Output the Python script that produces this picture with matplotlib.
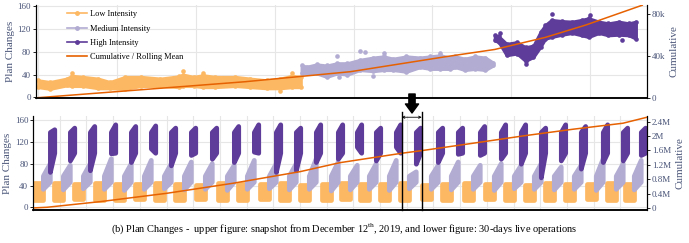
import matplotlib
matplotlib.use('Agg')
import matplotlib.pyplot as plt
import matplotlib.transforms as mtransforms
from matplotlib.lines import Line2D
from matplotlib.ticker import FuncFormatter, MultipleLocator

plt.rcParams['font.family'] = ['Liberation Serif', 'DejaVu Serif']
plt.rcParams['mathtext.fontset'] = 'custom'
plt.rcParams['mathtext.rm'] = 'Liberation Serif'

C_LOW = '#fdb863'
C_MED = '#b2abd2'
C_HIGH = '#5e3c99'
C_CUM = '#e66101'
C_TXT = '#4a5578'
C_GRID = '#e6e6e6'

# ---- upper: snapshot of one day (x = sample index) ----
low_x = [0, 15, 36, 43, 57, 76, 91, 110, 131, 155, 178, 184, 197, 209, 224, 250, 269, 290, 307, 322, 333]
low_top = [30, 27, 33, 38, 36, 33, 27, 36, 36, 33, 37, 40, 36, 39, 36, 36, 33, 30, 33, 38, 36]
low_bot = [18, 15, 21, 20, 20, 16, 16, 15, 20, 20, 18, 20, 20, 18, 18, 20, 18, 16, 16, 18, 18]
low_out_x = [43, 184, 209, 307, 322]
low_out_y = [43, 46, 43, 12, 43]

med_x = [334, 341, 353, 366, 379, 392, 408, 425, 438, 450, 467, 484, 497, 510, 522, 529, 541, 554, 567, 577]
med_top = [56, 54, 58, 56, 60, 60, 66, 70, 72, 68, 72, 70, 72, 74, 70, 72, 68, 72, 70, 61]
med_bot = [42, 42, 42, 36, 42, 40, 48, 46, 48, 48, 45, 53, 50, 50, 50, 53, 48, 50, 48, 56]
med_out_x = [379, 408, 414, 438, 510, 381, 425]
med_out_y = [72, 81, 79, 78, 78, 36, 38]

high_x = [579, 584, 594, 607, 618, 628, 637, 643, 651, 664, 677, 689, 698, 711, 723, 736, 749, 758]
high_top = [109, 107, 94, 97, 88, 91, 115, 127, 136, 134, 133, 136, 139, 133, 130, 133, 130, 133]
high_bot = [100, 97, 74, 77, 64, 71, 89, 103, 106, 110, 113, 109, 106, 113, 109, 110, 109, 103]
high_out_x = [651, 700, 618, 585, 740]
high_out_y = [147, 145, 59, 113, 100]

cum_x = [0, 262, 332, 396, 516, 579, 643, 694, 766]
cum_y = [0, 15200, 20200, 24800, 39000, 46000, 57500, 69200, 88200]

# ---- lower: 30 days of live operations ----
day_center = [712, 1461, 2210, 2997, 3746, 4495, 5244, 5994, 6780, 7604, 8354, 9178, 9927, 10676, 11500,
              12212, 12924, 13673, 14422, 15246, 15995, 16820, 17606, 18355, 19105, 19854, 20603, 21427, 22176, 22851]
hi_top = [143, 146, 149, 152, 149, 150, 146, 146, 146, 149, 152, 152, 146, 152, 152,
          152, 146, 152, 146, 146, 146, 149, 152, 152, 146, 152, 149, 152, 146, 146]
hi_bot = [65, 86, 68, 99, 83, 108, 77, 96, 89, 83, 102, 65, 68, 83, 89,
          111, 86, 111, 80, 83, 98, 96, 89, 80, 55, 86, 71, 83, 86, 96]
md_top = [81, 78, 81, 90, 81, 87, 81, 84, 81, 78, 87, 81, 81, 90, 84,
          78, 81, 87, 66, 78, 84, 78, 81, 78, 81, 75, 78, 90, 81, 87]
md_bot = [34, 33, 35, 34, 32, 34, 35, 33, 34, 32, 34, 35, 33, 34, 31,
          33, 34, 32, 35, 34, 33, 34, 32, 35, 34, 33, 34, 32, 34, 33]
lo_top = [44, 44, 42, 44, 42, 42, 44, 43, 41, 44, 43, 42, 44, 41, 43,
          44, 42, 43, 44, 41, 43, 44, 42, 43, 41, 44, 43, 42, 44, 43]
lo_bot = [14, 14, 15, 13, 14, 15, 14, 13, 15, 14, 13, 15, 14, 14, 13,
          15, 14, 13, 14, 15, 13, 14, 15, 13, 14, 14, 13, 15, 14, 13]
# typical corners of the medium / high clusters inside a day
md_start_top = 58
md_end_bot = 47
hi_start_top = 138
hi_end_bot = 100
# phase boundaries relative to the high-cluster centre
lo_span = [-672, -335]
md_span = [-345, -85]
hi_span = [-82, 82]

cum2_x = [0, 524, 2510, 5020, 7492, 10002, 11500, 13811, 14561, 16482, 18355, 20228, 22101, 23000]
cum2_y = [0, 19e3, 175e3, 408e3, 686e3, 1008e3, 1258e3, 1519e3, 1592e3, 1797e3, 2000e3, 2186e3,
          2353e3, 2519e3]

snap_window = [13811, 14561]


def fmt_k(v, pos):
    return '0' if v == 0 else f'{v / 1000:g}k'


def fmt_m(v, pos):
    return '0' if v == 0 else f'{v / 1e6:g}M'


def style(ax, axr, xstep):
    ax.set_axisbelow(True)
    ax.grid(True, color=C_GRID, lw=0.8)
    ax.xaxis.set_major_locator(MultipleLocator(xstep))
    ax.tick_params(axis='x', length=0, labelbottom=False)
    ax.tick_params(axis='y', length=2.5, width=0.6, labelsize=6.5, labelcolor=C_TXT, pad=1)
    axr.tick_params(axis='y', length=2.5, width=0.6, labelsize=6.5, labelcolor=C_TXT, pad=1)
    for a in (ax, axr):
        a.spines['top'].set_visible(False)
        a.spines['bottom'].set_linewidth(1.1)
        a.spines['left'].set_linewidth(0.8)
        a.spines['right'].set_linewidth(0.8)
    ax.set_ylabel('Plan Changes', fontsize=8, color=C_TXT, labelpad=2)
    axr.set_ylabel('Cumulative', fontsize=8, color=C_TXT, labelpad=3)


def band(ax, x, lo, hi, color, out_x, out_y):
    ax.fill_between(x, lo, hi, color=color, lw=2.2, edgecolor=color, joinstyle='round')
    ax.scatter(x + x, lo + hi, s=11, color=color, lw=0)
    ax.scatter(out_x, out_y, s=11, color=color, lw=0)


def blob(ax, x0, x1, b0, b1, t0, t1, color):
    ax.fill_between([x0, x1], [b0, b1], [t0, t1], color=color, lw=3.4, edgecolor=color,
                    joinstyle='round')


fig = plt.figure(figsize=(6.89, 2.43), dpi=100)

# upper chart
ax1 = fig.add_axes([0.052, 0.598, 0.887, 0.381])
ax1r = ax1.twinx()
band(ax1, low_x, low_bot, low_top, C_LOW, low_out_x, low_out_y)
band(ax1, med_x, med_bot, med_top, C_MED, med_out_x, med_out_y)
band(ax1, high_x, high_bot, high_top, C_HIGH, high_out_x, high_out_y)
ax1r.plot(cum_x, cum_y, color=C_CUM, lw=1.1)
ax1.set_xlim(-3, 772)
ax1.set_ylim(-0.5, 162)
ax1.set_yticks([0, 40, 80, 120, 160])
ax1r.set_ylim(0, 88300)
ax1r.set_yticks([0, 40000, 80000])
ax1r.yaxis.set_major_formatter(FuncFormatter(fmt_k))
style(ax1, ax1r, 100)

handles = [Line2D([], [], color=C_LOW, marker='o', markersize=2.5, lw=1.2),
           Line2D([], [], color=C_MED, marker='o', markersize=2.5, lw=1.2),
           Line2D([], [], color=C_HIGH, marker='o', markersize=2.5, lw=1.2),
           Line2D([], [], color=C_CUM, lw=1.2)]
labels = ['Low Intensity', 'Medium Intensity', 'High Intensity', 'Cumulative / Rolling Mean']
ax1.legend(handles, labels, loc='upper left', bbox_to_anchor=(0.045, 0.98), frameon=False,
           fontsize=6, handlelength=2.4, handletextpad=0.4, labelspacing=0.75, borderaxespad=0)

# lower chart
ax2 = fig.add_axes([0.048, 0.136, 0.891, 0.387])
ax2r = ax2.twinx()
for d, c in enumerate(day_center):
    blob(ax2, c + lo_span[0], c + lo_span[1], lo_bot[d], lo_bot[d], lo_top[d], lo_top[d], C_LOW)
for d, c in enumerate(day_center):
    blob(ax2, c + md_span[0], c + md_span[1], md_bot[d], md_end_bot, md_start_top, md_top[d], C_MED)
for d, c in enumerate(day_center):
    blob(ax2, c + hi_span[0], c + hi_span[1], hi_bot[d], hi_end_bot, hi_start_top, hi_top[d], C_HIGH)
ax2r.plot(cum2_x, cum2_y, color=C_CUM, lw=1.1)
ax2.set_xlim(0, 23000)
ax2.set_ylim(-4.6, 167.4)
ax2.set_yticks([0, 40, 80, 120, 160])
ax2r.set_ylim(-55600, 2.556e6)
ax2r.set_yticks([0, 4e5, 8e5, 1.2e6, 1.6e6, 2e6, 2.4e6])
ax2r.yaxis.set_major_formatter(FuncFormatter(fmt_m))
style(ax2, ax2r, 1000)

# snapshot window markers
tr = mtransforms.blended_transform_factory(ax2.transData, ax2.transAxes)
for xv in snap_window:
    ax2r.plot([xv, xv], [0, 1.045], transform=tr, color='black', lw=1.0, clip_on=False)
ax2r.annotate('', xy=(snap_window[0], 0.986), xytext=(snap_window[1], 0.986), xycoords=tr, textcoords=tr,
              arrowprops=dict(arrowstyle='<->', color='black', lw=0.6, mutation_scale=4,
                              shrinkA=0, shrinkB=0))
ax2r.annotate('', xy=(412, 130), xytext=(412, 149), xycoords='figure pixels', textcoords='figure pixels',
              arrowprops=dict(arrowstyle='simple,head_length=0.65,head_width=0.95,tail_width=0.45',
                              color='black', mutation_scale=10, shrinkA=0, shrinkB=0))

fig.text(0.5, 0.058, '(b) Plan Changes -  upper figure: snapshot from December 12$^{\\mathrm{th}}$, 2019, '
         'and lower figure: 30-days live operations', ha='center', va='center', fontsize=7.5)

fig.savefig('out.png', dpi=100)
